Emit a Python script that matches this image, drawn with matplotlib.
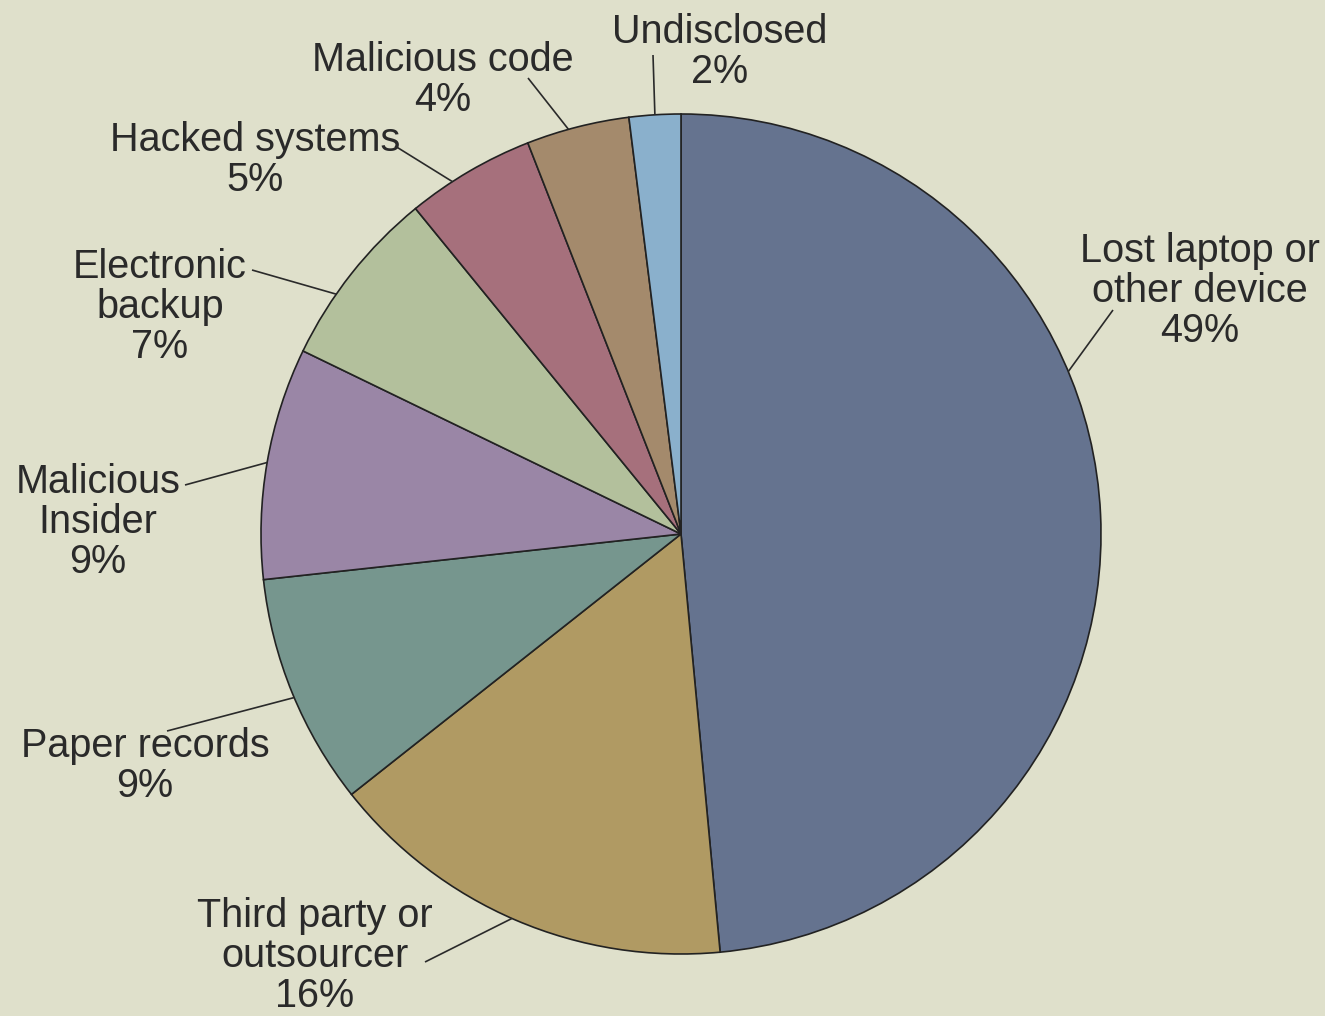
import numpy as np
import matplotlib
matplotlib.use("Agg")
import matplotlib.pyplot as plt

W, H = 1325, 1016

# slices, clockwise from 12 o'clock
labels = ["Lost laptop or\nother device", "Third party or\noutsourcer", "Paper records",
          "Malicious\nInsider", "Electronic\nbackup", "Hacked systems",
          "Malicious code", "Undisclosed"]
shares = [49, 16, 9, 9, 7, 5, 4, 2]
colors = ["#65738f", "#b09a63", "#76968e", "#9a86a6", "#b3c09c", "#a6707c", "#a48a6c", "#8ab0cc"]

# label block centres (image px) and where the leader leaves the text
text_xy = [(1200, 291), (315, 956), (145, 766), (98, 522), (160, 307), (255, 160), (443, 80), (720, 52)]
leader_from = [(1113, 310), (425, 962), (167, 731), (185, 485), (252, 270), (395, 146), (528, 78), (653, 55)]
# where along each wedge's arc the leader touches (0 = theta1, 1 = theta2)
leader_frac = [0.615, 0.49, 0.52, 0.5, 0.64, 0.65, 0.59, 0.5]

center_px = (681, 534)
radius = 420
bg = "#dfe0cb"
ink = "#2a2a2a"


def fy(y):
    return H - y


fig = plt.figure(figsize=(W / 100, H / 100), dpi=100)
fig.patch.set_facecolor(bg)
ax = fig.add_axes([0, 0, 1, 1])
ax.set_facecolor(bg)

cx, cy = center_px[0], fy(center_px[1])
wedges, _ = ax.pie(shares, colors=colors, startangle=90, counterclock=False,
                   center=(cx, cy), radius=radius,
                   wedgeprops=dict(edgecolor="#222222", linewidth=1.2))

for w, lab, pct, (tx, ty), (lx, ly), f in zip(wedges, labels, shares, text_xy, leader_from, leader_frac):
    ang = np.deg2rad(w.theta1 + f * (w.theta2 - w.theta1))
    px, py = cx + radius * np.cos(ang), cy + radius * np.sin(ang)
    ax.plot([lx, px], [fy(ly), py], color=ink, lw=1.2, solid_capstyle="butt")
    ax.text(tx, fy(ty), f"{lab}\n{pct}%", ha="center", va="center", fontsize=28.5,
            family="Liberation Sans", color=ink, linespacing=1.08)

ax.set_xlim(0, W)
ax.set_ylim(0, H)
ax.set_aspect("equal")
ax.axis("off")

fig.savefig("out.png", dpi=100, facecolor=bg)
